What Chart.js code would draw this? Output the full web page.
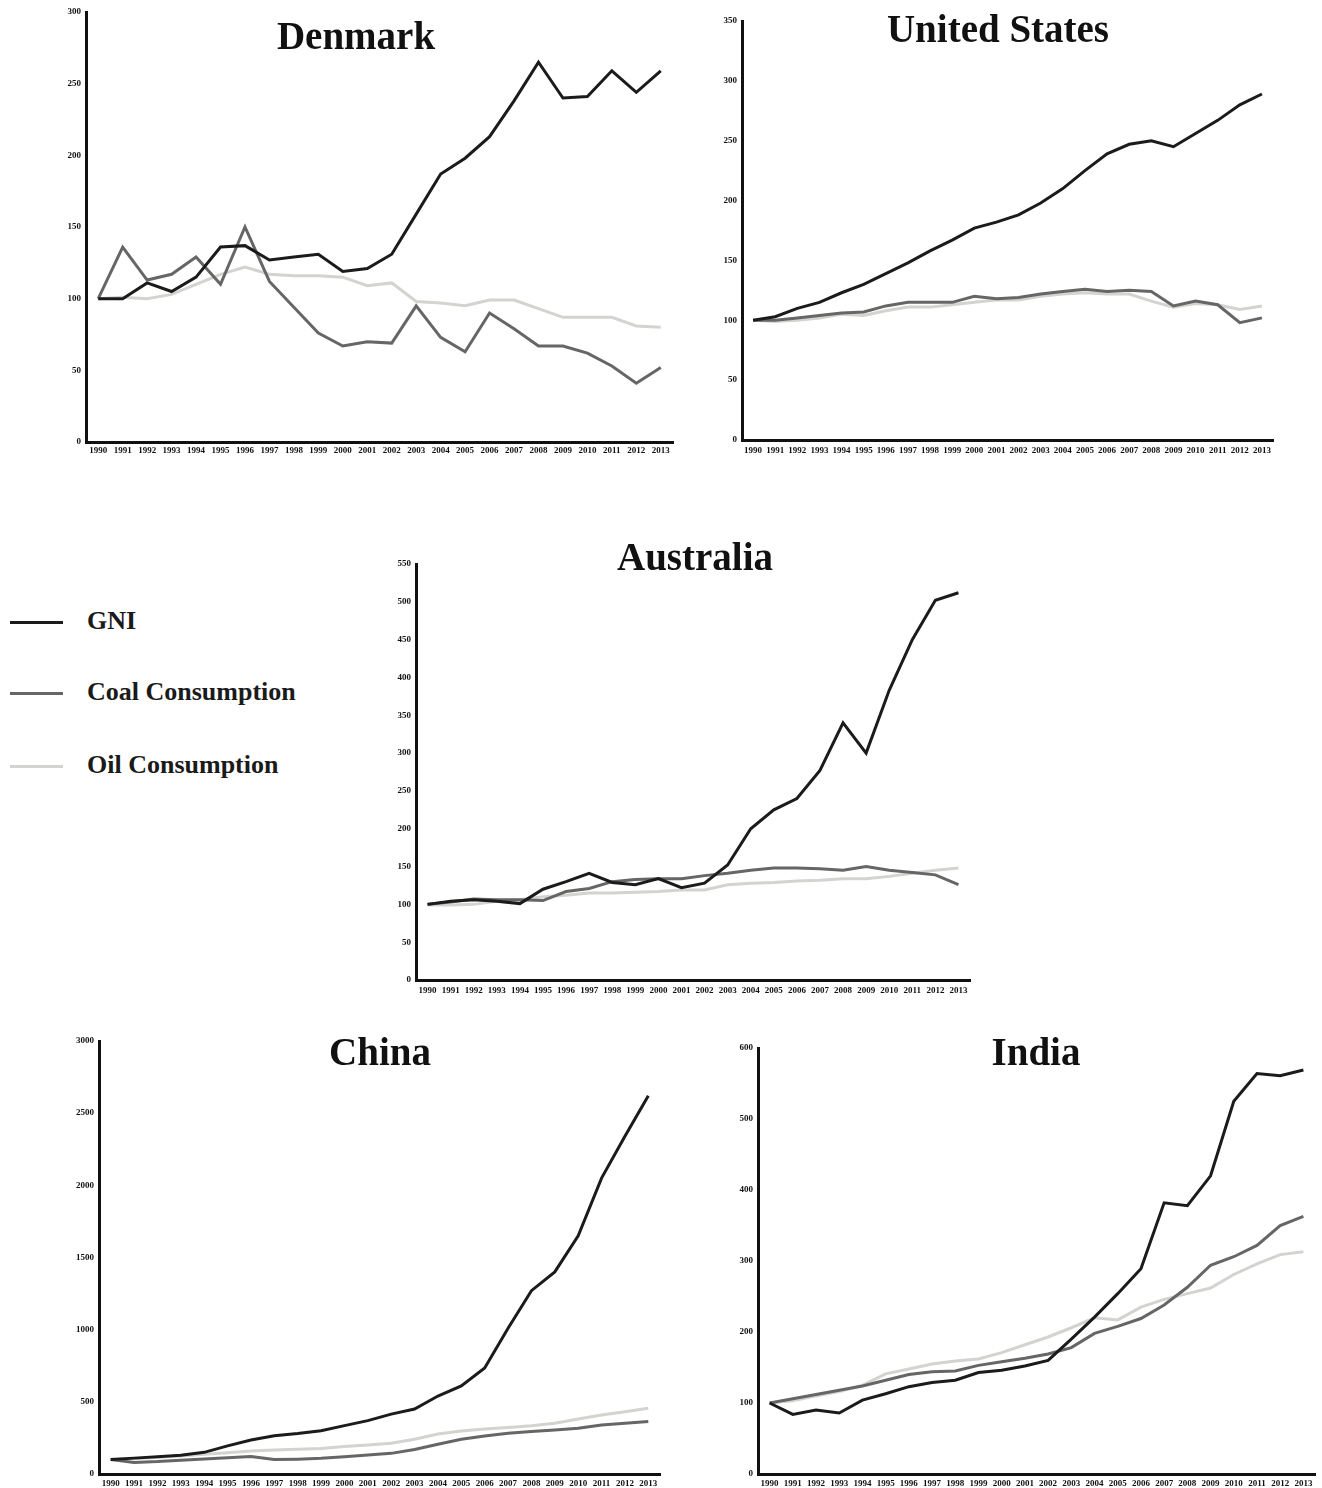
<!DOCTYPE html>
<html>
<head>
<meta charset="utf-8">
<script src="https://cdn.jsdelivr.net/npm/chart.js@4.4.1/dist/chart.umd.min.js"></script>
<style>
  html, body { margin: 0; padding: 0; background: #fff; }
  body { width: 1322px; height: 1488px; position: relative; overflow: hidden; }
  .panel { position: absolute; }
  .title {
    position: absolute; width: 500px; text-align: center;
    font-family: "Liberation Serif", "Times New Roman", serif; font-weight: bold;
    font-size: 39px; line-height: 39px; color: #111; white-space: nowrap;
  }
  .key-line { position: absolute; left: 10px; width: 53px; height: 3px; }
  .key-text {
    position: absolute; left: 87px;
    font-family: "Liberation Serif", "Times New Roman", serif; font-weight: bold;
    font-size: 26px; line-height: 26px; color: #1a1a1a; white-space: nowrap;
  }
</style>
</head>
<body>
<script>
// Years shared by every panel
const years = ['1990','1991','1992','1993','1994','1995','1996','1997','1998','1999','2000','2001',
               '2002','2003','2004','2005','2006','2007','2008','2009','2010','2011','2012','2013'];

// Index values (1990 = 100)
const denmarkGNI  = [100,100,111,105,115,136,137,127,129,131,119,121,131,159,187,198,213,238,265,240,241,259,244,259];
const denmarkCoal = [100,136,113,117,129,110,150,112,94,76,67,70,69,95,73,63,90,79,67,67,62,53,41,52];
const denmarkOil  = [100,101,100,103,110,117,122,117,116,116,115,109,111,98,97,95,99,99,93,87,87,87,81,80];

const usGNI  = [100,103,110,115,123,130,139,148,158,167,177,182,188,198,210,225,239,247,250,245,256,267,280,289];
const usCoal = [100,100,102,104,106,107,112,115,115,115,120,118,119,122,124,126,124,125,124,112,116,113,98,102];
const usOil  = [100,99,100,102,105,104,108,111,111,113,115,117,117,120,122,123,122,122,116,111,114,113,109,112];

const australiaGNI  = [100,104,106,104,101,120,130,141,129,126,134,122,128,152,200,225,240,277,340,300,383,450,502,512];
const australiaCoal = [100,103,107,106,106,105,117,121,130,133,134,134,138,141,145,148,148,147,145,150,145,142,139,126];
const australiaOil  = [99,99,100,104,106,110,112,115,115,116,117,119,119,126,128,129,131,132,134,134,137,141,145,148];

const chinaGNI  = [100,110,120,130,150,195,235,265,280,300,335,370,415,450,540,610,735,1010,1270,1400,1650,2050,2340,2620];
const chinaCoal = [100,80,86,96,104,113,121,100,103,109,120,131,143,170,206,241,264,282,294,305,317,340,351,363];
const chinaOil  = [100,105,116,125,137,148,160,167,171,176,190,201,213,241,277,298,312,323,335,351,381,409,432,455];

const indiaGNI  = [100,84,90,86,104,113,123,129,132,143,146,152,160,190,221,254,289,382,378,420,525,564,561,569];
const indiaCoal = [100,106,112,118,124,132,140,144,145,153,158,163,169,178,198,208,219,238,263,294,306,322,350,363];
const indiaOil  = [100,103,110,116,125,141,148,155,159,162,171,182,193,206,220,217,235,246,254,262,281,296,309,313];

const seriesNames  = ['GNI', 'Coal Consumption', 'Oil Consumption'];
const seriesColors = ['#1b1b1b', '#666666', '#d3d3cf'];

const tickFont = { family: '"Liberation Serif", "Times New Roman", serif', size: 9, weight: 'bold' };

// Plot rectangles (page pixels) for each panel
const panels = [
  { title: 'Denmark',       data: [denmarkGNI, denmarkCoal, denmarkOil],       max: 300,  step: 50,
    plot: { l: 86,  t: 12,  r: 673,  b: 442 },  xPad: 3, titleX: 356,  titleTop: 16 },
  { title: 'United States', data: [usGNI, usCoal, usOil],                      max: 350,  step: 50,
    plot: { l: 742, t: 21,  r: 1273, b: 440 },  xPad: 5, titleX: 998,  titleTop: 9 },
  { title: 'Australia',     data: [australiaGNI, australiaCoal, australiaOil], max: 550,  step: 50,
    plot: { l: 416, t: 564, r: 970,  b: 980 },  xPad: 5, titleX: 695,  titleTop: 537 },
  { title: 'China',         data: [chinaGNI, chinaCoal, chinaOil],             max: 3000, step: 500,
    plot: { l: 99,  t: 1041, r: 660, b: 1474 }, xPad: 4, titleX: 380,  titleTop: 1032 },
  { title: 'India',         data: [indiaGNI, indiaCoal, indiaOil],             max: 600,  step: 100,
    plot: { l: 758, t: 1048, r: 1315, b: 1474 }, xPad: 4, titleX: 1036, titleTop: 1032 }
];

const AXIS_W = 44, PAD_T = 12, PAD_R = 10, XAXIS_H = 22;

panels.forEach((p) => {
  const wrap = document.createElement('div');
  wrap.className = 'panel';
  const w = (p.plot.r - p.plot.l) + AXIS_W + PAD_R;
  const h = (p.plot.b - p.plot.t) + PAD_T + XAXIS_H;
  wrap.style.left = (p.plot.l - AXIS_W) + 'px';
  wrap.style.top = (p.plot.t - PAD_T) + 'px';
  wrap.style.width = w + 'px';
  wrap.style.height = h + 'px';
  const canvas = document.createElement('canvas');
  canvas.width = w; canvas.height = h;
  wrap.appendChild(canvas);
  document.body.appendChild(wrap);

  new Chart(canvas, {
    type: 'line',
    data: {
      labels: years,
      datasets: p.data.map((vals, k) => ({
        label: seriesNames[k],
        data: vals,
        borderColor: seriesColors[k],
        backgroundColor: seriesColors[k],
        borderWidth: 3,
        pointRadius: 0,
        tension: 0,
        fill: false,
        order: k
      }))
    },
    options: {
      responsive: false,
      animation: false,
      events: [],
      layout: { padding: { top: PAD_T, right: PAD_R, bottom: 0, left: 0 } },
      plugins: { legend: { display: false }, title: { display: false }, tooltip: { enabled: false } },
      scales: {
        x: {
          offset: true,
          grid: { display: false, drawTicks: false },
          border: { display: true, color: '#111', width: 3 },
          ticks: { font: tickFont, color: '#111', padding: p.xPad, autoSkip: false, maxRotation: 0, minRotation: 0 },
          afterFit: (s) => { s.height = XAXIS_H; }
        },
        y: {
          min: 0, max: p.max,
          grid: { display: false, drawTicks: false },
          border: { display: true, color: '#111', width: 3 },
          ticks: { stepSize: p.step, font: tickFont, color: '#111', padding: 5, callback: (v) => String(v) },
          afterFit: (s) => { s.width = AXIS_W; }
        }
      }
    }
  });

  const t = document.createElement('div');
  t.className = 'title';
  t.textContent = p.title;
  t.style.left = (p.titleX - 250) + 'px';
  t.style.top = p.titleTop + 'px';
  document.body.appendChild(t);
});

// Series key
const keyRows = [622, 693, 766];
seriesNames.forEach((name, k) => {
  const line = document.createElement('div');
  line.className = 'key-line';
  line.style.top = (keyRows[k] - 1) + 'px';
  line.style.background = seriesColors[k];
  document.body.appendChild(line);
  const txt = document.createElement('div');
  txt.className = 'key-text';
  txt.textContent = name;
  txt.style.top = (keyRows[k] - 14) + 'px';
  document.body.appendChild(txt);
});
</script>
</body>
</html>
